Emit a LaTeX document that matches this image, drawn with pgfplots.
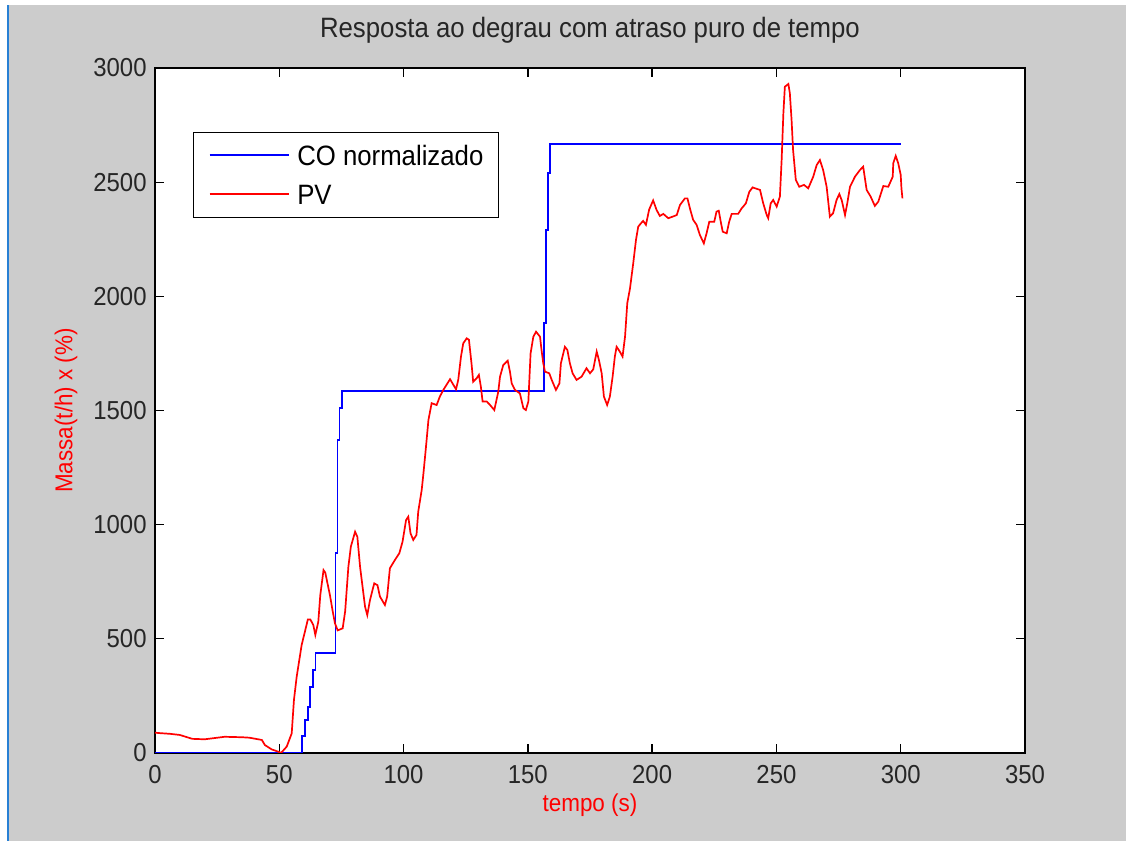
\documentclass[border=0pt]{standalone}
\usepackage{fontspec}
\setmainfont{Liberation Sans}[FakeStretch=0.92]
\usepackage{pgfplots}
\pgfplotsset{compat=1.18}
\definecolor{figgray}{RGB}{204,204,204}
\definecolor{edgeblue}{RGB}{40,128,212}
\definecolor{coblue}{RGB}{0,0,255}
\definecolor{pvred}{RGB}{255,0,0}
\newcommand{\ticksize}{\fontsize{13}{15}\selectfont}
\newcommand{\legsize}{\fontsize{14}{16}\selectfont}
\newcommand{\titlesize}{\fontsize{14}{16}\selectfont}
\newcommand{\labsize}{\fontsize{12.2}{14}\selectfont}
\begin{document}
\begin{tikzpicture}
\fill[figgray] (-77.5pt,-44pt) rectangle (485.5pt,376.5pt);
\fill[white] (-77.5pt,374pt) rectangle (485.5pt,376.5pt);
\fill[white] (-77.5pt,-44pt) rectangle (-74pt,376.5pt);
\fill[edgeblue] (-74pt,-44pt) rectangle (-72.8pt,374pt);
\begin{axis}[
  at={(0,0)}, anchor=south west,
  scale only axis, width=435pt, height=342.5pt,
  xmin=0, xmax=350, ymin=0, ymax=3000,
  xtick={0,50,...,350}, ytick={0,500,...,3000},
  axis background/.style={fill=white},
  tick align=inside, major tick length=4.5pt,
  axis line style={line width=0.65pt, black},
  every tick/.style={black, line width=0.65pt},
  /pgf/number format/assume math mode=true,
  /pgf/number format/1000 sep={},
  tick label style={font=\ticksize, color=black!85},
  xticklabel style={anchor=north, inner sep=0pt, yshift=-6pt},
  yticklabel style={anchor=east, inner sep=0pt, xshift=-4pt},
  title={Resposta ao degrau com atraso puro de tempo},
  title style={font=\titlesize, at={(axis description cs:0.5,1)}, anchor=base, yshift=9pt, inner sep=0pt, color=black!85},
  xlabel={tempo (s)},
  xlabel style={font=\labsize, color=pvred, at={(axis description cs:0.5,0)}, anchor=base, yshift=-29.5pt, inner sep=0pt},
  ylabel={Massa(t/h) x (\%)},
  ylabel style={font=\labsize, color=pvred, at={(axis description cs:-0.1023,0.5)}, anchor=center, inner sep=0pt},
  legend style={at={(axis description cs:0.0440,0.9070)}, anchor=north west, draw=black, fill=white,
    font=\legsize, inner xsep=7.5pt, inner ysep=2pt, row sep=0pt, column sep=3.9pt,
    nodes={inner sep=0pt, text height=14.8pt, text depth=4.4pt}},
  legend cell align=left,
  legend image code/.code={\draw[#1] (0pt,0pt) -- (39.5pt,0pt);},
]
\addlegendimage{color=coblue, line width=0.9pt}
\addlegendentry{CO normalizado}
\addlegendimage{color=pvred, line width=0.85pt}
\addlegendentry{PV}
\addplot[color=coblue, line width=0.9pt, forget plot] coordinates {
(0,0) (59.0,0) (59.0,74) (60.3,74) (60.3,145) (61.5,145) (61.5,203) (62.5,203)
(62.5,290) (63.7,290) (63.7,363) (64.6,363) (64.6,437) (72.6,437) (72.6,875)
(73.4,875) (73.4,1371) (74.2,1371) (74.2,1510) (75.1,1510) (75.1,1587)
(156.6,1587) (156.6,1882) (157.3,1882) (157.3,2291) (158.2,2291) (158.2,2539)
(158.9,2539) (158.9,2667) (300,2667)
};
\addplot[color=pvred, line width=0.85pt, forget plot] coordinates {
(0,89) (2,87) (6,84) (10,79) (15,62) (20,60) (28,71) (35,69) (38,67) (43,57)
(44.2,35) (46.9,16) (50,4) (50.7,0) (53,28) (55,86) (55.9,232) (57,334) (59,473)
(60.5,540) (61.5,585) (62.5,585) (63.7,560) (64.5,517) (65.7,575) (66.5,692)
(67.8,801) (68.5,790) (70.4,690) (71.5,620) (72.4,568) (73.5,537) (75.5,546)
(76.5,620) (77.8,816) (78.8,904) (80.5,969) (81.4,947) (82.5,816) (83.5,728)
(84.5,641) (85.4,604) (86.5,670) (88.2,743) (89.5,735) (90.5,685) (92.5,648)
(93.4,685) (94.5,809) (96.5,845) (98.3,875) (99.6,926) (101,1020) (101.9,1035)
(102.8,962) (103.9,933) (105.2,955) (105.9,1057) (107.3,1152) (108,1225)
(108.9,1327) (110,1458) (111.3,1532) (113.3,1524) (114.6,1561) (116,1590)
(118.7,1637) (121.1,1593) (122,1634) (123.1,1736) (124,1794) (125.4,1816)
(126.3,1810) (127.4,1699) (128,1626) (129.4,1641) (130.3,1656) (131.1,1604)
(131.8,1539) (133.5,1539) (134.8,1524) (136.5,1502) (138.1,1582) (138.8,1648)
(140.1,1699) (141.9,1718) (142.8,1670) (143.5,1619) (144.8,1590) (146.8,1575)
(148.2,1510) (149.2,1502) (150.2,1539) (151.1,1750) (152.2,1823) (153.3,1845)
(154.9,1823) (155.5,1765) (156.2,1707) (156.9,1670) (158.6,1663) (159.6,1634)
(161.3,1590) (162.7,1619) (163.3,1707) (164.9,1779) (165.9,1765) (166.9,1707)
(168,1663) (169.6,1634) (171.6,1648) (173.6,1685) (175,1663) (176.3,1680)
(177.7,1758) (178.6,1721) (179.7,1663) (180.6,1561) (181.9,1524) (183,1561)
(184.1,1648) (185,1736) (185.7,1779) (187,1758) (188.1,1736) (189.1,1823)
(190,1970) (191.1,2035) (192.4,2145) (193.5,2247) (194.4,2305) (195.5,2320)
(196.4,2330) (197.5,2313) (198.8,2380) (200.4,2420) (201.8,2378) (203.1,2352)
(204.5,2361) (206.5,2342) (208.5,2350) (209.9,2356) (211.2,2400) (213.2,2429)
(214.2,2429) (215.2,2385) (216.5,2335) (217.9,2313) (219.2,2269) (220.8,2232)
(221.9,2276) (223,2327) (225,2327) (225.9,2371) (226.8,2375) (227.6,2327)
(228.4,2283) (230,2276) (231,2327) (232,2361) (234.6,2361) (236,2385)
(237.7,2407) (239.1,2458) (240.4,2477) (243.4,2466) (244.7,2407) (246.1,2356)
(246.7,2342) (247.7,2407) (248.7,2422) (250.1,2393) (251.4,2437) (252.1,2597)
(252.8,2802) (253.4,2918) (254.8,2930) (255.4,2890) (256.1,2772) (256.7,2641)
(257.8,2510) (259.2,2480) (261.1,2488) (262.8,2473) (264.8,2524) (266.2,2575)
(267.5,2597) (268.8,2553) (270.2,2480) (271.5,2349) (272.8,2364) (274.2,2422)
(275.3,2448) (276.3,2420) (277.6,2356) (278.5,2407) (279.6,2480) (281.6,2524)
(283.6,2553) (284.9,2568) (286.3,2466) (287.9,2437) (289.6,2396) (291,2415)
(293,2483) (295,2480) (296.8,2524) (297,2583) (298,2615) (299,2583) (300,2532)
(300.3,2473) (300.7,2429)
};
\end{axis}
\pgfresetboundingbox
\useasboundingbox (-77.5pt,-44pt) rectangle (485.5pt,376.5pt);
\end{tikzpicture}
\end{document}
